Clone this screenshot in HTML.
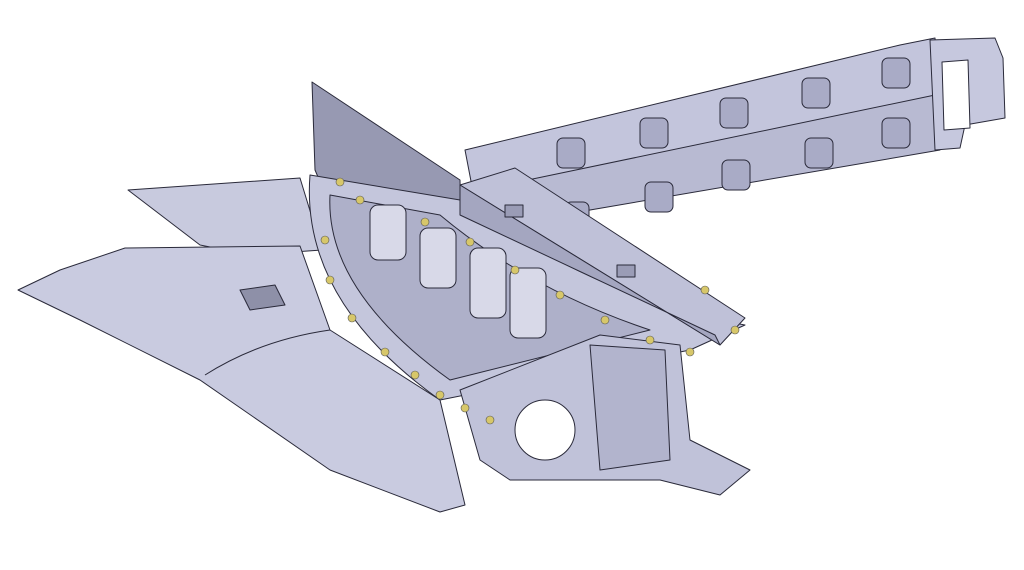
<!DOCTYPE html>
<html><head><meta charset="utf-8"><style>
html,body{margin:0;padding:0;background:#fff;width:1024px;height:570px;overflow:hidden}
</style></head><body>
<svg width="1024" height="570" viewBox="0 0 1024 570" xmlns="http://www.w3.org/2000/svg" stroke="#2a2a3a" stroke-width="1" stroke-linejoin="round">
<!-- right beam -->
<polygon points="465,150 900,45 935,38 940,120 480,228" fill="#c3c5dc"/>
<polygon points="480,190 935,95 940,150 485,228" fill="#b8bad2"/>
<polygon points="930,40 995,38 1003,58 1005,118 965,125 960,148 935,150" fill="#c6c8de"/>
<polygon points="942,62 968,60 970,128 944,130" fill="#fff"/>
<g fill="#a9abc6">
<rect x="557" y="138" width="28" height="30" rx="6"/><rect x="640" y="118" width="28" height="30" rx="6"/>
<rect x="720" y="98" width="28" height="30" rx="6"/><rect x="802" y="78" width="28" height="30" rx="6"/>
<rect x="882" y="58" width="28" height="30" rx="6"/>
<rect x="645" y="182" width="28" height="30" rx="6"/><rect x="722" y="160" width="28" height="30" rx="6"/>
<rect x="805" y="138" width="28" height="30" rx="6"/><rect x="882" y="118" width="28" height="30" rx="6"/>
<rect x="565" y="202" width="24" height="26" rx="6"/>
</g>
<!-- top thin sheet -->
<polygon points="128,190 300,178 322,250 250,255 200,245" fill="#c8cade"/>
<!-- wing -->
<polygon points="18,290 60,270 125,248 300,246 330,330 440,400 465,505 440,512 330,470 200,380 80,320" fill="#c9cbe0"/>
<path d="M205,375 Q260,340 330,330" fill="none"/>
<polygon points="240,290 275,285 285,305 250,310" fill="#8e90a8"/>
<!-- vertical fin -->
<polygon points="312,82 460,180 462,270 330,205 315,170" fill="#9799b2"/>
<!-- rib frame -->
<path d="M310,175 Q300,300 440,400 L690,350 L745,325 Q600,300 460,200 Z" fill="#c4c6dc"/>
<path d="M330,195 Q325,290 450,380 L650,330 Q530,290 440,215 Z" fill="#aeb0c9"/>
<g fill="#d8d9e8">
<rect x="420" y="228" width="36" height="60" rx="8"/><rect x="470" y="248" width="36" height="70" rx="8"/>
<rect x="510" y="268" width="36" height="70" rx="8"/><rect x="370" y="205" width="36" height="55" rx="8"/>
</g>
<!-- diagonal bar -->
<polygon points="460,185 515,168 745,318 720,345" fill="#bfc1d8"/>
<polygon points="460,185 720,345 715,335 460,215" fill="#a4a6c0"/>
<rect x="505" y="205" width="18" height="12" fill="#9a9cb6"/><rect x="617" y="265" width="18" height="12" fill="#9a9cb6"/>
<!-- lower box -->
<polygon points="460,390 600,335 680,345 690,440 750,470 720,495 660,480 510,480 480,460" fill="#c0c2d9"/>
<polygon points="590,345 665,350 670,460 600,470" fill="#b2b4cd"/>
<circle cx="545" cy="430" r="30" fill="#fff"/>
<!-- bolts -->
<g fill="#d7c76a" stroke="#555" stroke-width="0.6">
<circle cx="340" cy="182" r="4"/><circle cx="360" cy="200" r="4"/><circle cx="325" cy="240" r="4"/>
<circle cx="330" cy="280" r="4"/><circle cx="352" cy="318" r="4"/><circle cx="385" cy="352" r="4"/>
<circle cx="415" cy="375" r="4"/><circle cx="440" cy="395" r="4"/><circle cx="465" cy="408" r="4"/>
<circle cx="490" cy="420" r="4"/><circle cx="425" cy="222" r="4"/><circle cx="470" cy="242" r="4"/>
<circle cx="515" cy="270" r="4"/><circle cx="560" cy="295" r="4"/><circle cx="605" cy="320" r="4"/>
<circle cx="650" cy="340" r="4"/><circle cx="690" cy="352" r="4"/><circle cx="735" cy="330" r="4"/>
<circle cx="705" cy="290" r="4"/>
</g>
</svg>
</body></html>
